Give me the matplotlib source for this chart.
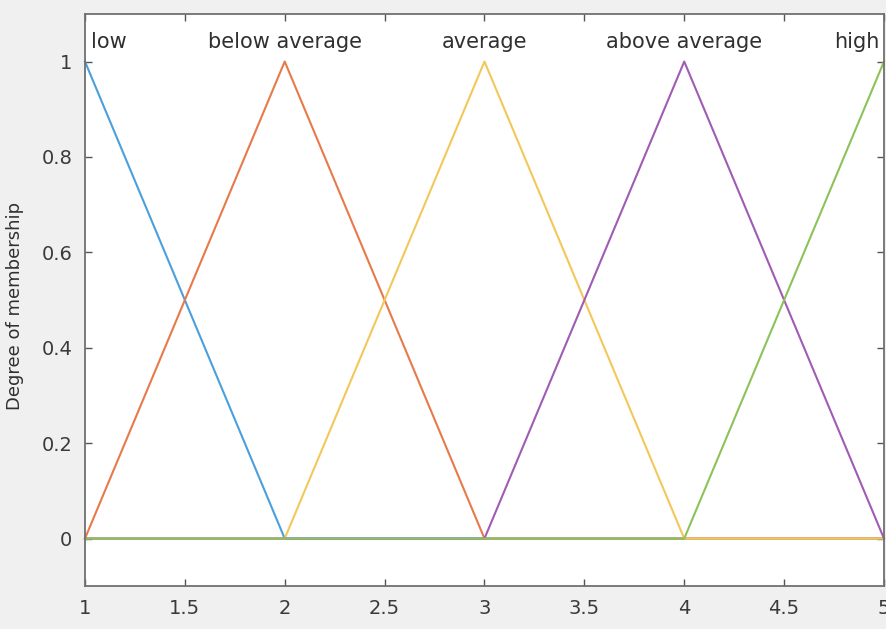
import numpy as np
import matplotlib
matplotlib.use("Agg")
import matplotlib.pyplot as plt

plt.rcParams['font.family'] = ['DejaVu Sans']

# membership function values at the break points
x_points = [1, 2, 3, 4, 5]
low = [1, 0, 0, 0, 0]
below_average = [0, 1, 0, 0, 0]
average = [0, 0, 1, 0, 0]
above_average = [0, 0, 0, 1, 0]
high = [0, 0, 0, 0, 1]
mf_names = ["low", "below average", "average", "above average", "high"]
mf_colors = ["#4a9fdc", "#e8794a", "#f3c85a", "#a05bb4", "#8cc25a"]

fig = plt.figure(figsize=(8.87, 6.29), dpi=100, facecolor="#f0f0f0")
ax = fig.add_axes([0.0958, 0.068, 0.9008, 0.910])
ax.set_facecolor("white")

series = [low, below_average, average, above_average, high]
for vals, col in zip(series, mf_colors):
    ax.plot(x_points, vals, color=col, lw=1.5, clip_on=False)

# labels above the peaks
label_x = [1.03, 2.0, 3.0, 4.0, 4.98]
label_ha = ["left", "center", "center", "center", "right"]
for name, lx, ha in zip(mf_names, label_x, label_ha):
    ax.text(lx, 1.042, name, ha=ha, va="center", fontsize=15, color="#303030")

ax.set_xlim(1, 5)
ax.set_ylim(-0.1, 1.1)
ax.set_xticks([1, 1.5, 2, 2.5, 3, 3.5, 4, 4.5, 5])
ax.set_xticklabels(["1", "1.5", "2", "2.5", "3", "3.5", "4", "4.5", "5"])
ax.set_yticks([0, 0.2, 0.4, 0.6, 0.8, 1])
ax.set_yticklabels(["0", "0.2", "0.4", "0.6", "0.8", "1"])
ax.tick_params(direction="in", top=True, right=True, length=5, width=1,
               colors="#555555", labelsize=14, labelcolor="#3a3a3a", pad=9)
for sp in ax.spines.values():
    sp.set_color("#707070")
    sp.set_linewidth(1.3)
ax.set_ylabel("Degree of membership", fontsize=13, color="#303030")
ax.yaxis.set_label_coords(-0.076, 0.49)

fig.savefig("out.png", dpi=100, facecolor=fig.get_facecolor())
